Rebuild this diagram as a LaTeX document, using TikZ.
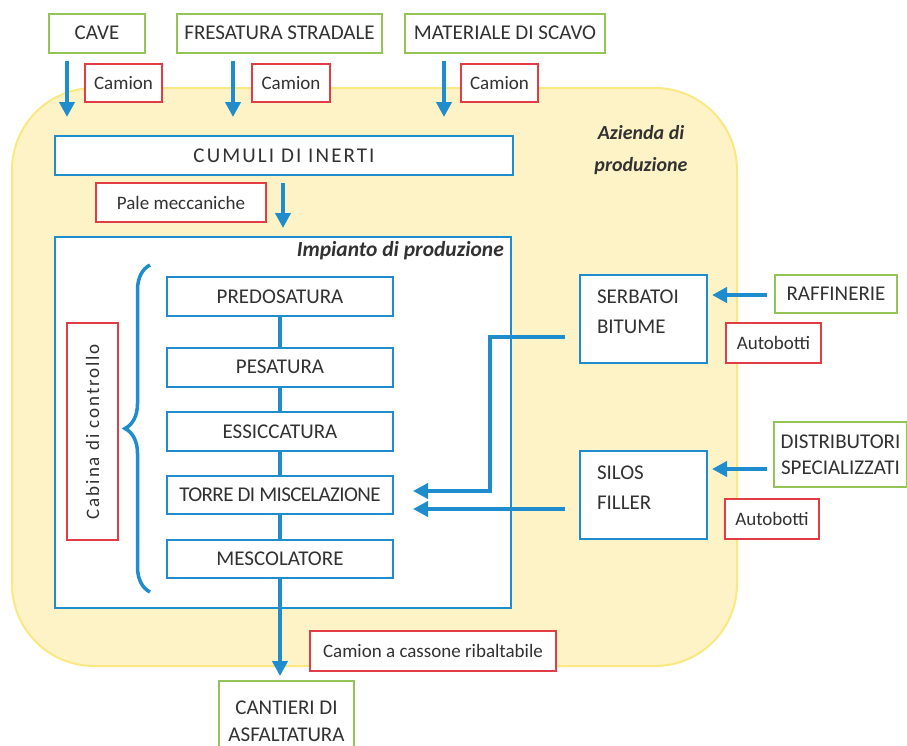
\documentclass[tikz,border=0pt]{standalone}
\usepackage{fontspec}
\setmainfont{Carlito}
\usetikzlibrary{arrows.meta,decorations.pathreplacing,calc}
\definecolor{cblue}{RGB}{30,140,205}
\definecolor{cgreen}{RGB}{146,196,86}
\definecolor{cred}{RGB}{226,60,70}
\definecolor{cyel}{RGB}{254,243,198}
\definecolor{cyelb}{RGB}{250,232,130}
\definecolor{ctext}{RGB}{50,50,50}
\tikzset{
  base/.style={draw, line width=2pt, text=ctext, inner sep=0pt, outer sep=0pt, fill=white,
    font=\fontsize{21}{25}\selectfont},
  gbox/.style={base, draw=cgreen},
  rbox/.style={base, draw=cred, font=\fontsize{19}{23}\selectfont},
  bbox/.style={base, draw=cblue},
  tank/.style={bbox, minimum width=127pt, minimum height=88pt, inner xsep=17pt, anchor=center},
  arr/.style={draw=cblue, line width=4.5pt, -{Triangle[length=15pt,width=15pt]}},
  conn/.style={draw=cblue, line width=4.5pt},
  ttl/.style={text=ctext, inner sep=0pt, font=\fontsize{20}{32}\selectfont\bfseries\itshape},
}
\newcommand{\tanktext}[2]{\makebox[93pt][l]{\raisebox{1pt}[0pt][0pt]{\def\arraystretch{1.2}\begin{tabular}{@{}l@{}}#1\\#2\end{tabular}}}}
\begin{document}
\begin{tikzpicture}[x=1pt,y=-1pt]
\useasboundingbox (0,0) rectangle (907,745);
\clip (0,0) rectangle (907,745);
% production area
\draw[fill=cyel, draw=cyelb, line width=2pt, rounded corners=82pt] (12,88) rectangle (737,666);
\node[ttl, align=center] (az) at (641,150) {Azienda di\\produzione};

% sources
\node[gbox, minimum width=96pt, minimum height=39pt] (cave) at (97,33) {CAVE};
\node[gbox, minimum width=205pt, minimum height=39pt] (fres) at (279.5,33) {FRESATURA STRADALE};
\node[gbox, minimum width=200pt, minimum height=39pt] (mat) at (505,33) {MATERIALE DI SCAVO};
\node[rbox, minimum width=77pt, minimum height=38pt] (cam1) at (123.5,83) {Camion};
\node[rbox, minimum width=78pt, minimum height=38pt] (cam2) at (291,83) {Camion};
\node[rbox, minimum width=77pt, minimum height=38pt] (cam3) at (499.5,83) {Camion};
\coordinate (t1) at (67,117);
\coordinate (t2) at (233,117);
\coordinate (t3) at (444,117);
\draw[arr, shorten <=8pt] (cave.south -| t1) -- (t1);
\draw[arr, shorten <=8pt] (fres.south -| t2) -- (t2);
\draw[arr, shorten <=8pt] (mat.south -| t3) -- (t3);

% cumuli
\node[bbox, minimum width=458pt, minimum height=39pt,
  font=\fontsize{21}{25}\selectfont\addfontfeature{LetterSpace=10}] (cum) at (284,155.5) {CUMULI DI INERTI};
\node[rbox, minimum width=170pt, minimum height=39pt] (pale) at (181,202.5) {Pale meccaniche};

% plant
\node[bbox, minimum width=456pt, minimum height=371pt] (imp) at (283,422.5) {};
\node[ttl, anchor=east, font=\fontsize{21.5}{26}\selectfont\bfseries\itshape] (implab) at (504,251) {Impianto di produzione};
\coordinate (pa) at (283,200);
\draw[arr, shorten <=8pt, shorten >=9pt] (cum.south -| pa) -- (imp.north -| pa);

\node[bbox, minimum width=226pt, minimum height=39pt] (pre) at (280,296.5) {PREDOSATURA};
\node[bbox, minimum width=226pt, minimum height=39pt] (pes) at (280,367) {PESATURA};
\node[bbox, minimum width=226pt, minimum height=39pt] (ess) at (280,431.5) {ESSICCATURA};
\node[bbox, minimum width=226pt, minimum height=38pt,
  font=\fontsize{21}{25}\selectfont\addfontfeature{LetterSpace=-3}] (tor) at (280,494.5) {TORRE DI MISCELAZIONE};
\node[bbox, minimum width=226pt, minimum height=38pt] (mes) at (280,559) {MESCOLATORE};
\draw[conn] (pre.south) -- (pes.north);
\draw[conn] (pes.south) -- (ess.north);
\draw[conn] (ess.south) -- (tor.north);
\draw[conn] (tor.south) -- (mes.north);

\node[rbox, rotate=90, minimum width=217pt, minimum height=51pt,
  font=\fontsize{19}{23}\selectfont\addfontfeature{LetterSpace=10}] (cab) at (92.5,431.5) {Cabina di controllo};
\coordinate (brb) at (150,592);
\coordinate (brt) at (150,265);
\draw[cblue, line width=3.5pt, decorate, decoration={brace, amplitude=25pt, aspect=0.5}] (brb) -- (brt);

% bitumen and filler
\node[tank] (serb) at (643.5,318.5) {\tanktext{SERBATOI}{BITUME}};
\node[tank] (silo) at (643.5,494.5) {\tanktext{SILOS}{FILLER}};
\node[gbox, minimum width=122pt, minimum height=38pt] (raf) at (836,294) {RAFFINERIE};
\node[rbox, minimum width=95pt, minimum height=40pt] (ab1) at (773.5,343) {Autobotti};
\node[gbox, minimum width=133pt, minimum height=65pt, align=center,
  font=\fontsize{21}{25.5}\selectfont] (dist) at (840.5,454.5) {DISTRIBUTORI\\SPECIALIZZATI};
\node[rbox, minimum width=94pt, minimum height=40pt] (ab2) at (772,519) {Autobotti};
\coordinate (r1) at (767,295);
\coordinate (d1) at (767,469);
\draw[arr, shorten >=5pt] (r1) -- (r1 -| serb.east);
\draw[arr, shorten >=5pt] (d1) -- (d1 -| silo.east);

\coordinate (b1) at (565,337);
\coordinate (b2) at (413,491);
\coordinate (bk) at (490,491);
\draw[arr] (b1) -| (bk) -- (b2);
\coordinate (f1) at (565,509);
\coordinate (f2) at (413,509);
\draw[arr] (f1) -- (f2);

% output
\node[rbox, minimum width=246pt, minimum height=40pt] (rib) at (433,651) {Camion a cassone ribaltabile};
\node[gbox, minimum width=135pt, minimum height=80pt, align=center,
  font=\fontsize{21}{27}\selectfont] (cant) at (286.5,721) {CANTIERI DI\\ASFALTATURA};
\draw[arr, shorten >=5pt] (mes.south) -- (mes.south |- cant.north);
\end{tikzpicture}
\end{document}
